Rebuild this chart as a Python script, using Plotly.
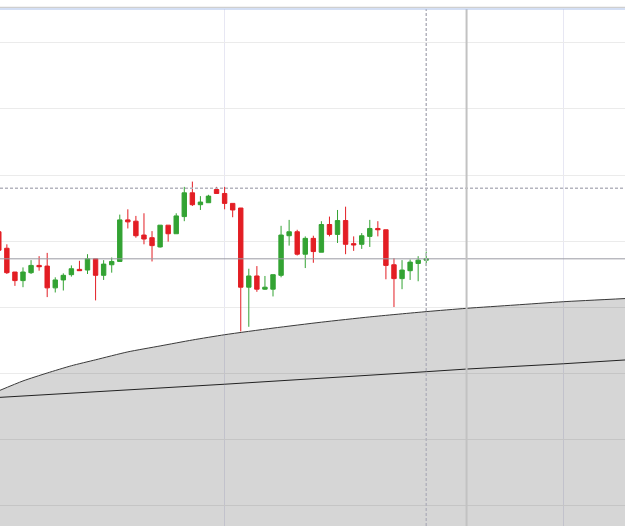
import plotly.graph_objects as go

# Candle data (index-based x)
idx = list(range(54))
opens = [101.4, 98.9, 95.3, 94.0, 95.2, 96.3, 96.2, 92.9, 94.1, 94.9,
         95.7, 95.6, 97.3, 94.8, 96.4, 96.9, 103.2, 103.0, 100.9, 100.5,
         99.1, 102.4, 101.1, 103.7, 107.3, 105.5, 105.8, 107.8, 107.2, 105.7,
         105.0, 93.0, 94.7, 92.7, 92.7, 94.8, 100.8, 101.4, 98.0, 100.4,
         98.3, 102.5, 101.0, 103.1, 99.6, 99.5, 100.7, 101.9, 101.7, 96.4,
         94.3, 95.5, 96.6, 97.1]
highs = [101.8, 99.5, 95.3, 96.0, 97.1, 97.7, 98.2, 94.5, 95.1, 96.3,
         97.0, 98.0, 97.3, 97.1, 97.5, 104.0, 104.8, 103.8, 104.2, 101.5,
         102.4, 102.4, 104.2, 108.2, 109.0, 106.8, 107.0, 108.2, 108.2, 105.7,
         105.0, 95.8, 96.2, 94.7, 94.9, 102.3, 103.2, 101.7, 100.7, 100.8,
         103.0, 103.7, 104.7, 105.2, 100.7, 101.2, 103.2, 103.0, 101.7, 97.4,
         97.1, 97.2, 97.7, 98.4]
lows = [98.3, 95.0, 93.2, 93.0, 95.0, 95.5, 91.5, 92.2, 92.5, 94.6,
        95.5, 95.0, 91.0, 94.1, 95.2, 96.9, 101.9, 100.5, 99.5, 96.9,
        99.0, 99.9, 101.1, 103.0, 105.3, 104.7, 105.8, 107.2, 104.8, 103.6,
        86.3, 87.0, 92.3, 92.6, 91.6, 94.5, 99.3, 97.8, 95.9, 96.7,
        98.3, 100.7, 99.7, 98.0, 98.5, 98.8, 99.1, 100.7, 94.2, 90.0,
        92.7, 94.1, 93.9, 96.2]
closes = [98.6, 95.2, 94.0, 95.3, 96.3, 96.1, 92.9, 94.1, 94.8, 95.8,
          95.5, 97.3, 94.8, 96.5, 96.9, 103.2, 102.9, 100.8, 100.3, 99.3,
          102.4, 101.1, 103.8, 107.3, 105.5, 105.9, 106.8, 107.2, 105.7, 104.7,
          93.0, 94.7, 92.7, 93.0, 94.9, 100.9, 101.4, 98.0, 100.4, 98.4,
          102.5, 101.0, 103.1, 99.5, 99.4, 100.8, 101.9, 101.7, 96.3, 94.3,
          95.6, 96.8, 97.1, 97.3]

# Grey band (upper curve) and inner line
band_x = [0, 3, 6, 9, 12, 16, 20, 24, 28, 34, 40, 46, 53, 58, 64, 70, 78]
band_upper = [77.3, 78.8, 80.0, 81.1, 82.0, 83.2, 84.1, 85.0, 85.8, 86.8,
              87.7, 88.5, 89.3, 89.8, 90.3, 90.8, 91.3]
line_x = [0, 28, 53, 58, 70, 78]
line_lower = [76.3, 78.3, 80.2, 80.6, 81.4, 82.0]

# Reference levels / markers
last_price = 97.3
cross_price = 108.0
cross_index = 53
now_index = 58
vgrid_idx = [28, 70]

RED = "#e31e24"
GREEN = "#33a333"

fig = go.Figure()

fig.add_trace(go.Scatter(
    x=band_x, y=band_upper, mode="lines", line=dict(color="#3a3a3a", width=1, shape="spline", smoothing=0.6),
    fill="tozeroy", fillcolor="rgba(0,0,0,0.16)", hoverinfo="skip", showlegend=False))
fig.add_trace(go.Scatter(
    x=line_x, y=line_lower, mode="lines", line=dict(color="#222222", width=1),
    hoverinfo="skip", showlegend=False))

fig.add_trace(go.Candlestick(
    x=idx, open=opens, high=highs, low=lows, close=closes,
    increasing=dict(line=dict(color=GREEN, width=1), fillcolor=GREEN),
    decreasing=dict(line=dict(color=RED, width=1), fillcolor=RED),
    whiskerwidth=0, showlegend=False))

shapes = [
    dict(type="line", xref="paper", yref="y", x0=0, x1=1, y0=last_price, y1=last_price,
         line=dict(color="#9a9aa2", width=1)),
    dict(type="line", xref="paper", yref="y", x0=0, x1=1, y0=cross_price, y1=cross_price,
         line=dict(color="#b4b4be", width=1.5, dash="3px,2px")),
    dict(type="line", xref="x", yref="paper", x0=cross_index, x1=cross_index, y0=0, y1=1,
         line=dict(color="#b4b4be", width=1.5, dash="3px,2px")),
    dict(type="line", xref="x", yref="paper", x0=now_index, x1=now_index, y0=0, y1=1,
         line=dict(color="#c2c2c2", width=2)),
    dict(type="line", xref="paper", yref="paper", x0=0, x1=1, y0=1.0, y1=1.0,
         line=dict(color="#a9c0ea", width=1.2)),
    dict(type="line", xref="paper", yref="paper", x0=0, x1=1, y0=1 + 1.6 / 517, y1=1 + 1.6 / 517,
         line=dict(color="#cfcfcf", width=1.2)),
]

fig.update_layout(
    width=625, height=526,
    margin=dict(l=0, r=0, t=9, b=0),
    paper_bgcolor="white", plot_bgcolor="white",
    boxgap=0.22,
    showlegend=False,
    shapes=shapes,
    xaxis=dict(range=[0.149, 77.645], tickvals=vgrid_idx, showticklabels=False,
               showgrid=True, gridcolor="#e7e7f3", gridwidth=1, zeroline=False,
               rangeslider=dict(visible=False), showline=False, ticks=""),
    yaxis=dict(range=[56.82, 135.15], tick0=0, dtick=10, showticklabels=False,
               showgrid=True, gridcolor="#ebebeb", gridwidth=1, zeroline=False,
               showline=False, ticks=""),
)

fig.write_html("out.html")
